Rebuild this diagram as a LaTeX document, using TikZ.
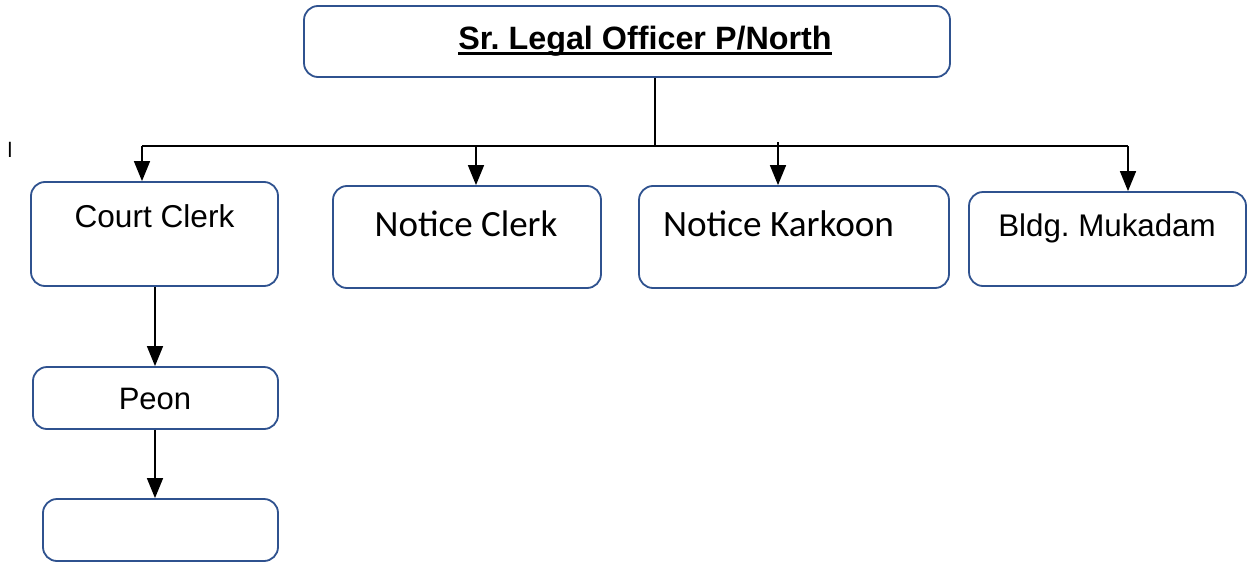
\documentclass[tikz,border=0pt]{standalone}
\usepackage{fontspec}
\setmainfont{Liberation Sans}
\newfontfamily\calib{Carlito}
\frenchspacing
\newcommand\thickul[1]{\setbox0\hbox{#1}\rlap{\rule[-5.5pt]{\wd0}{2.2pt}}\box0}
\usetikzlibrary{arrows.meta}
\definecolor{boxblue}{RGB}{47,82,143}
\tikzset{
  box/.style={draw=boxblue, line width=1.8pt, rounded corners=14pt, fill=white, inner sep=0pt},
  conn/.style={draw=black, line width=1.6pt},
  arr/.style={conn, -{Triangle[length=20pt,width=16pt]}},
  lbl/.style={anchor=base, inner sep=0pt, text=black}
}
\begin{document}
\begin{tikzpicture}[x=1pt,y=-1pt]
\useasboundingbox (0,0) rectangle (1250,562);
% boxes
\node[box, minimum width=646pt, minimum height=71pt] (top) at (627,41.5) {};
\node[box, minimum width=247pt, minimum height=104pt] (cc) at (154.5,234) {};
\node[box, minimum width=268pt, minimum height=102pt] (nc) at (467,237) {};
\node[box, minimum width=310pt, minimum height=102pt] (nk) at (794,237) {};
\node[box, minimum width=277pt, minimum height=94pt] (bm) at (1107.5,239) {};
\node[box, minimum width=245pt, minimum height=62pt] (peon) at (155.5,398) {};
\node[box, minimum width=235pt, minimum height=62pt] (empty) at (160.5,530) {};
% texts
\node[lbl, font=\fontsize{32.3}{36}\selectfont\bfseries] (toptxt) at (645,49) {\thickul{Sr. Legal Officer P/North}};
\node[lbl, font=\fontsize{31.6}{36}\selectfont] (cctxt) at (154.5,227) {Court Clerk};
\node[lbl, font=\calib\fontsize{37}{40}\selectfont] (nctxt) at (466,236) {Notice Clerk};
\node[lbl, font=\calib\fontsize{37.2}{40}\selectfont] (nktxt) at (778.5,236) {Notice Karkoon};
\node[lbl, font=\fontsize{31.3}{34}\selectfont] (bmtxt) at (1107,236) {Bldg. Mukadam};
\node[lbl, font=\fontsize{31}{36}\selectfont] (peontxt) at (155,409) {Peon};
\node[lbl, font=\fontsize{21}{24}\selectfont] (mark) at (10,157) {l};
% connectors
\coordinate (j) at (655,145);
\coordinate (hl) at (142,146);
\coordinate (hr) at (1128,146);
\coordinate (a1) at (142,146);
\coordinate (a2) at (476,146);
\coordinate (a3) at (778,142);
\coordinate (a4) at (1128,146);
\draw[conn] (top.south -| j) -- (j);
\draw[conn] (hl) -- (hr);
\draw[arr] (a1) -- (a1 |- cc.north);
\draw[arr] (a2) -- (a2 |- nc.north);
\draw[arr] (a3) -- (a3 |- nk.north);
\draw[arr] (a4) -- (a4 |- bm.north);
\coordinate (v) at (155,0);
\draw[arr] (cc.south -| v) -- (peon.north -| v);
\draw[arr] (peon.south -| v) -- (empty.north -| v);
\end{tikzpicture}
\end{document}
